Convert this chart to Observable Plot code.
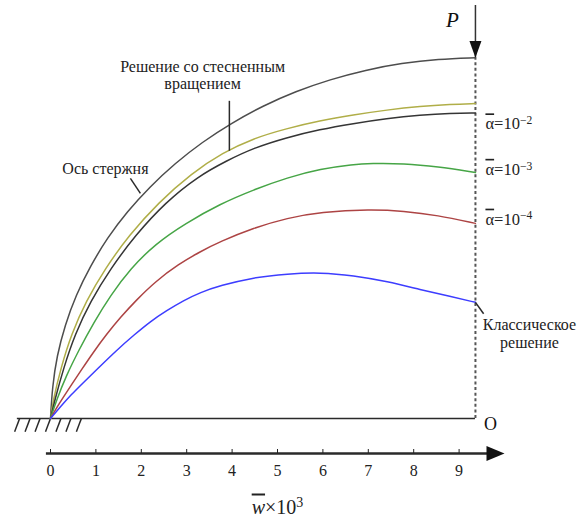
<!DOCTYPE html>
<html><head><meta charset="utf-8">
<script src="https://cdn.jsdelivr.net/npm/d3@7"></script>
<script src="https://cdn.jsdelivr.net/npm/@observablehq/plot@0.6"></script>
<style>
html,body{margin:0;padding:0;background:#fff}
svg{display:block}
</style>
</head><body><div id="chart"></div>
<script>
// ---- data (x = w̄×10³, y in the same units; ground at y = 0) ----
const xTicks = [0, 1, 2, 3, 4, 5, 6, 7, 8, 9];
const beamEnd = 9.36;

// Ось стержня (rod axis)
const rodAxis = [[0,0],[0.04,0.69],[0.14,1.38],[0.32,2.06],[0.56,2.72],[0.88,3.36],[1.25,3.98],[1.69,4.56],[2.19,5.11],[2.74,5.62],[3.34,6.09],[3.99,6.51],[4.68,6.89],[5.40,7.21],[6.16,7.47],[6.94,7.68],[7.74,7.83],[8.54,7.92],[9.36,7.95]];
// Решение со стесненным вращением
const constrained = [[0,0],[0.055,0.39],[0.23,1.12],[0.46,1.86],[0.78,2.58],[1.20,3.30],[1.73,4.04],[2.38,4.76],[3.10,5.40],[3.80,5.86],[4.46,6.17],[5.20,6.39],[5.93,6.56],[6.67,6.69],[7.41,6.80],[8.15,6.88],[8.81,6.92],[9.36,6.94]];
// ᾱ = 10^-2
const alpha2 = [[0,0],[0.09,0.39],[0.29,1.12],[0.54,1.86],[0.88,2.58],[1.32,3.30],[1.87,4.04],[2.53,4.76],[3.24,5.33],[3.88,5.68],[4.47,5.96],[5.20,6.19],[5.93,6.37],[6.67,6.50],[7.40,6.61],[8.15,6.69],[8.81,6.73],[9.36,6.73]];
// ᾱ = 10^-3
const alpha3 = [[0,0],[0.13,0.40],[0.35,0.95],[0.62,1.50],[0.95,2.11],[1.32,2.71],[1.76,3.30],[2.31,3.85],[2.97,4.30],[3.74,4.73],[4.47,5.04],[5.22,5.31],[5.95,5.50],[6.67,5.60],[7.05,5.62],[7.78,5.62],[8.52,5.55],[9.36,5.42]];
// ᾱ = 10^-4
const alpha4 = [[0,0],[0.13,0.23],[0.29,0.48],[0.46,0.74],[0.68,1.07],[0.95,1.47],[1.23,1.85],[1.54,2.23],[1.89,2.61],[2.31,3.02],[2.82,3.40],[3.30,3.68],[3.74,3.90],[4.47,4.20],[5.22,4.42],[5.95,4.55],[7.05,4.61],[7.78,4.57],[8.52,4.48],[9.36,4.30]];
// Классическое решение
const classic = [[0,0],[0.22,0.26],[0.44,0.51],[0.70,0.77],[1.06,1.12],[1.45,1.50],[1.85,1.85],[2.20,2.14],[2.56,2.38],[2.93,2.60],[3.30,2.78],[3.74,2.93],[4.47,3.11],[5.22,3.19],[5.95,3.22],[6.67,3.15],[7.42,3.02],[8.15,2.84],[8.81,2.69],[9.36,2.56]];

const seriesNames = ["rod", "constrained", "a2", "a3", "a4", "classic"];
const seriesColors = ["#4d4d4d", "#b0ae48", "#353535", "#46a546", "#ad4444", "#3d3dff"];
const seriesData = [rodAxis, constrained, alpha2, alpha3, alpha4, classic];

const alphaExponents = ["−2", "−3", "−4"];
const hatchX = [-0.68, -0.45, -0.23, 0, 0.23, 0.45, 0.68];

const textLabels = [
  {text: "Ось стержня", x: 1.21, y: 5.51},
  {text: "Решение со стесненным\nвращением", x: 3.35, y: 7.57}
];
const leaders = [
  {x1: 1.76, y1: 5.29, x2: 1.98, y2: 4.96},
  {x1: 3.94, y1: 7.00, x2: 3.94, y2: 5.90},
  {x1: 9.36, y1: 2.56, x2: 9.54, y2: 2.31}
];

// ---- build ----
const SERIF = "Liberation Serif";
const last = a => a[a.length - 1];
const rows = seriesNames.flatMap((s, i) => seriesData[i].map(([x, y]) => ({series: s, x, y})));
const yDomain = [-0.77, 9.1];

const arrowDown = {draw(ctx, size) { const r = Math.sqrt(size / Math.PI); ctx.moveTo(0, 1.4 * r); ctx.lineTo(-r, -1.4 * r); ctx.lineTo(r, -1.4 * r); ctx.closePath(); }};
const arrowRight = {draw(ctx, size) { const r = Math.sqrt(size / Math.PI); ctx.moveTo(1.2 * r, 0); ctx.lineTo(-1.2 * r, -r); ctx.lineTo(-1.2 * r, r); ctx.closePath(); }};

const alphaEnds = [alpha2, alpha3, alpha4].map((a, i) => ({x: last(a)[0], y: last(a)[1], t: "α=10^" + alphaExponents[i]}));
const alphaDy = [11, -3, -4];

const plot = Plot.plot({
  width: 584, height: 519,
  marginTop: 5, marginBottom: 66, marginLeft: 50, marginRight: 80,
  x: {domain: [0, 10]},
  y: {domain: yDomain, axis: null},
  color: {domain: seriesNames, range: seriesColors},
  style: {fontFamily: SERIF, fontSize: "16px", color: "#222", background: "#fff", overflow: "visible"},
  marks: [
    Plot.ruleY([0], {x1: -0.73, x2: beamEnd, stroke: "#2a2a2a", strokeWidth: 1.5}),
    Plot.link(hatchX, {x1: d => d, y1: 0, x2: d => d - 0.11, y2: -0.29, stroke: "#2a2a2a", strokeWidth: 1.5}),
    Plot.ruleX([beamEnd], {y1: 0, y2: last(rodAxis)[1], stroke: "#555", strokeWidth: 2, strokeDasharray: "3,2.6"}),
    Plot.ruleX([beamEnd], {y1: last(rodAxis)[1], y2: yDomain[1], stroke: "#333", strokeWidth: 1.5}),
    Plot.line(rows, {x: "x", y: "y", z: "series", stroke: "series", strokeWidth: 1.5, curve: "basis"}),
    Plot.dot([last(rodAxis)], {x: d => d[0], y: d => d[1], symbol: arrowDown, r: 6, fill: "#111", dy: -8.4}),
    Plot.ruleY([yDomain[0]], {x1: -0.09, x2: 9.85, stroke: "#2a2a2a", strokeWidth: 2.5}),
    Plot.dot([[10, yDomain[0]]], {x: d => d[0], y: d => d[1], symbol: arrowRight, r: 7.5, fill: "#111", dx: -9}),
    Plot.axisX(xTicks, {anchor: "bottom", tickSize: -4, tickPadding: 15, fontSize: 16, label: "w×10^3", labelAnchor: "center", labelOffset: 60, labelArrow: false}),
    Plot.link(leaders, {x1: "x1", y1: "y1", x2: "x2", y2: "y2", stroke: "#2a2a2a", strokeWidth: 1.5}),
    Plot.text(textLabels, {x: "x", y: "y", text: "text", fontSize: 16, lineHeight: 1.08, fill: "#222"}),
    ...alphaEnds.map((d, i) => Plot.text([d], {x: "x", y: "y", text: "t", dx: 10, dy: alphaDy[i], textAnchor: "start", fontSize: 16.5, fill: "#222"})),
    Plot.text([last(classic)], {x: d => d[0], y: d => d[1], text: () => "Классическое\nрешение", dx: 54, dy: 31, lineHeight: 1.08, fontSize: 16, fill: "#222"}),
    Plot.text([last(rodAxis)], {x: d => d[0], y: d => d[1], text: () => "P", dx: -23, dy: -37, fontSize: 21, fontStyle: "italic", fill: "#111"}),
    Plot.text([[beamEnd, 0]], {x: d => d[0], y: d => d[1], text: () => "O", dx: 15, dy: 6, fontSize: 18, fill: "#111"})
  ]
});

// rich text: overline + superscript; serif face on every text element
const svgSel = d3.select(plot);
svgSel.attr("font-family", SERIF);
svgSel.selectAll("text").each(function () {
  const sel = d3.select(this).attr("font-family", SERIF).style("font-family", SERIF);
  const s = this.textContent.replace(/[→←]/g, "").trim();
  if (!s.includes("^")) return;
  const [base, exp] = s.split("^");
  sel.text(null);
  const first = base[0], rest = base.slice(1);
  const isW = first === "w";
  if (isW) sel.attr("font-size", 20);
  sel.append("tspan").style("text-decoration", "overline").attr("font-style", isW ? "italic" : null).text(first);
  sel.append("tspan").text(rest);
  sel.append("tspan").attr("dy", "-0.45em").attr("font-size", "0.7em").text(exp);
});

document.getElementById("chart").appendChild(plot);
</script>
</body></html>
